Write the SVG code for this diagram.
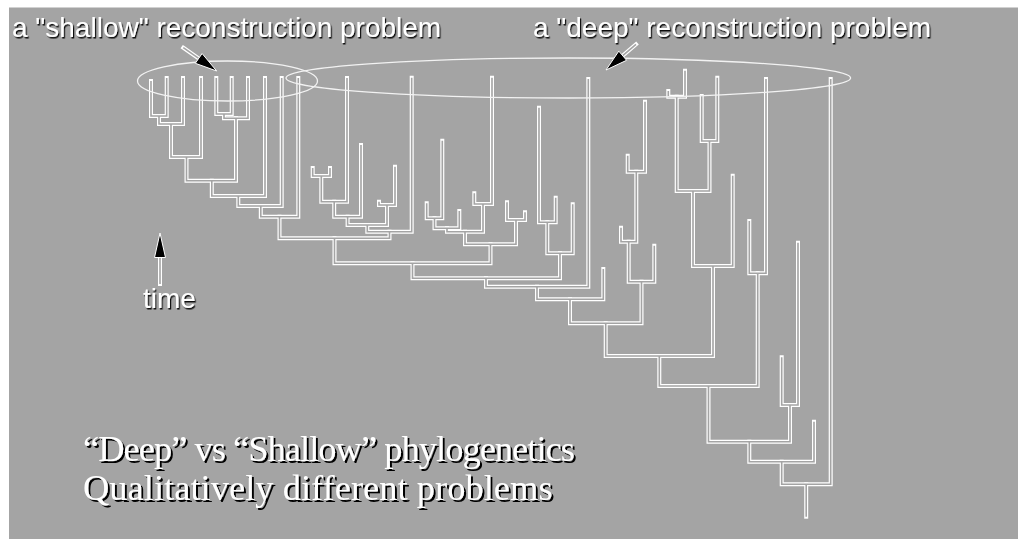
<svg xmlns="http://www.w3.org/2000/svg" xmlns:xlink="http://www.w3.org/1999/xlink" width="1018" height="539" viewBox="0 0 1018 539">
<style>
.o{fill:none;stroke:#fff;stroke-width:4;stroke-linecap:square;stroke-linejoin:miter}
.i{fill:none;stroke:#a4a4a4;stroke-width:1.6;stroke-linecap:butt;stroke-linejoin:miter}
.ell{fill:none;stroke:#f2f2f2;stroke-width:1.3}
.head{fill:#000;stroke:#fff;stroke-width:1}
.sans{font-family:"Liberation Sans",Arial,sans-serif;font-size:28px;fill:#fff;filter:url(#sh1)}
.serif{font-family:"Liberation Serif","Times New Roman",serif;font-size:36.5px;fill:#fff;filter:url(#sh2)}
</style>
<defs>
<filter id="sh1" x="-5%" y="-20%" width="110%" height="150%"><feDropShadow dx="1.2" dy="1.5" stdDeviation="0.4" flood-color="#111" flood-opacity="1"/></filter>
<filter id="sh2" x="-5%" y="-20%" width="110%" height="150%"><feDropShadow dx="2" dy="2" stdDeviation="0.5" flood-color="#000" flood-opacity="1"/></filter>
<g id="branches">
<path d="M151 81V116H166.7V78"/>
<path d="M159 116V124H183V78"/>
<path d="M171 124V157H201V78"/>
<path d="M216.3 78V114H231.7V78"/>
<path d="M224 114V118.3H248V78"/>
<path d="M186.5 157V180.7H236V118.3"/>
<path d="M211.8 180.7V196H265V78"/>
<path d="M238.3 196V206H281.7V78"/>
<path d="M260.8 206V216.7H298.3V78"/>
<path d="M312.7 168V176H330V168"/>
<path d="M321.3 176V201.7H347V78"/>
<path d="M334.2 201.7V216.7H361V145"/>
<path d="M379 201.7V205H395V166.7"/>
<path d="M347.6 216.7V225H387V205"/>
<path d="M367.3 225V231.7H411.7V77.7"/>
<path d="M279.5 216.7V238.3H389.5V231.7"/>
<path d="M426.7 203.3V218.3H442.3V140.7"/>
<path d="M434.5 218.3V228.3H459.3V211"/>
<path d="M474.3 193.3V204H492V77.7"/>
<path d="M447 228.3V231.7H483V204"/>
<path d="M507 202.3V220H525V212.3"/>
<path d="M465 231.7V244.3H516V220"/>
<path d="M334.5 238.3V263.3H490.5V244.3"/>
<path d="M539 107.7V222.3H555.7V197.7"/>
<path d="M547.3 222.3V253.3H572.7V204.3"/>
<path d="M412.5 263.3V278.3H560V253.3"/>
<path d="M486 278.3V286.7H588.3V79"/>
<path d="M537 286.7V299.3H603.3V269"/>
<path d="M627.7 155.7V171.7H645V101.7"/>
<path d="M621 227.7V241.7H636.3V171.7"/>
<path d="M628.7 241.7V281.7H654.3V245.7"/>
<path d="M570 299.3V323.3H641.5V281.7"/>
<path d="M668.3 91V96.7H685V70.7"/>
<path d="M701.7 96V141H717.3V77.7"/>
<path d="M676.7 96.7V191H709.5V141"/>
<path d="M693 191V266H732.7V175.7"/>
<path d="M605.7 323.3V356H713V266"/>
<path d="M749.3 221V273.3H766V79"/>
<path d="M659.3 356V386H757.7V273.3"/>
<path d="M781.7 357.3V405H798V242.7"/>
<path d="M708.5 386V441.7H790V405"/>
<path d="M749.3 441.7V461.7H814V421.7"/>
<path d="M781.7 461.7V484.3H830.7V79"/>
<path d="M806.2 484.3V516.7"/>
</g>
<g id="shafts">
<path d="M183.3 47.7L198.7 58.4"/>
<path d="M636 44.3L622.7 55.7"/>
<path d="M160 257V284"/>
</g>
</defs>
<rect x="0" y="0" width="1018" height="539" fill="#fff"/>
<rect x="9" y="7.5" width="1009" height="531.5" fill="#a4a4a4"/>
<g id="connectors">
<use xlink:href="#branches" class="o"/>
<use xlink:href="#branches" class="i"/>
</g>
<g id="shallow-region">
<ellipse class="ell" cx="227.5" cy="81" rx="90" ry="20"/>
</g>
<g id="deep-region">
<ellipse class="ell" cx="568.3" cy="78" rx="282.3" ry="20"/>
</g>
<g id="arrows">
<use xlink:href="#shafts" class="o"/>
<use xlink:href="#shafts" class="i"/>
<polygon class="head" points="216.7,71 195.3,63.3 202.1,53.5"/>
<polygon class="head" points="606,70 626.6,60.3 618.8,51.1"/>
<polygon class="head" points="160,233 154.5,257.5 165.5,257.5"/>
</g>
<g id="label-shallow"><text class="sans" x="12" y="37">a "shallow" reconstruction problem</text></g>
<g id="label-deep"><text class="sans" x="533" y="37">a "deep" reconstruction problem</text></g>
<g id="label-time"><text class="sans" x="143" y="308">time</text></g>
<g id="title">
<text class="serif" x="83" y="461" textLength="492" lengthAdjust="spacing">“Deep” vs “Shallow” phylogenetics</text>
<text class="serif" x="83" y="500">Qualitatively different problems</text>
</g>
</svg>
